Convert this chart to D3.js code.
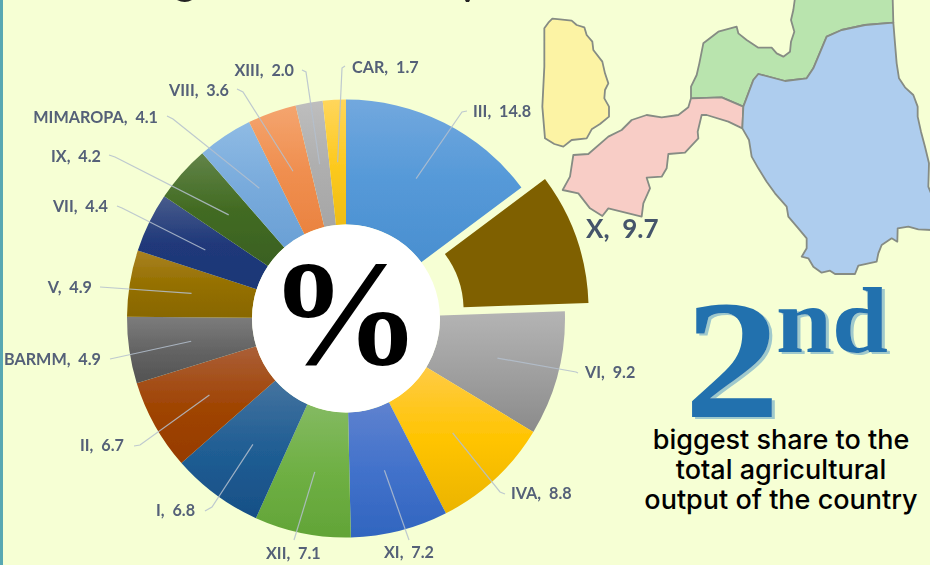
<!DOCTYPE html>
<meta charset="utf-8">
<style>
html, body { margin: 0; padding: 0; background: #f6ffd4; overflow: hidden; }
svg { display: block; }
</style>
<body>
<script src="https://d3js.org/d3.v7.min.js"></script>
<script>

// chart values, clockwise from the top
var regions = ["III", "X", "VI", "IVA", "XI", "XII", "I", "II", "BARMM", "V", "VII", "IX", "MIMAROPA", "VIII", "XIII", "CAR"];
var shares = [14.8, 9.7, 9.2, 8.8, 7.2, 7.1, 6.8, 6.7, 4.9, 4.9, 4.4, 4.2, 4.1, 3.6, 2.0, 1.7];
var highlighted = "X";

// gradient colours per slice, same order
var topColors = ["#72a8de", "#7f6000", "#b4b4b4", "#ffcb45", "#5f82cf", "#84ba62", "#44739f", "#ab5f38", "#7c7c7c", "#a98222", "#485c8c", "#628449", "#8fbbe4", "#f4a56f", "#bebebe", "#ffd65c"];
var midColors = ["#5599d8", "#7f6000", "#a0a0a0", "#ffc400", "#4272cb", "#6fb044", "#205e94", "#a04505", "#646464", "#957000", "#20397a", "#426b22", "#79abdc", "#f08f50", "#afafaf", "#fdca20"];
var bottomColors = ["#4a8fd0", "#7f6000", "#8b8b8b", "#ebb400", "#3165bf", "#62a437", "#174f86", "#963b00", "#525252", "#886700", "#1d3877", "#3a6020", "#6aa0d5", "#ea8340", "#a6a6a6", "#efbd12"];

// where each leader ends and its label sits
var leaderEnds = {
  "III": [[462, 112], [467, 111]], "VI": [[576, 372], [578, 373]], "IVA": [[500, 492], [505, 494]],
  "XI": [[409, 540]], "XII": [[294, 540]], "I": [[212, 507], [205, 511]], "II": [[140, 445], [134, 446]],
  "BARMM": [[110, 359]], "V": [[100, 287]], "VII": [[122, 208], [117, 206]], "IX": [[115, 157], [109, 155]],
  "MIMAROPA": [[173, 119], [167, 116]], "VIII": [[243, 92], [237, 89]], "XIII": [[306, 72], [302, 70]], "CAR": [[342, 68], [345, 66]]
};
var labelSpots = {
  "III": [473, 117, "start"], "X": [586, 238, "start"], "VI": [585, 378, "start"], "IVA": [511, 499, "start"],
  "XI": [384, 558, "start"], "XII": [266, 559, "start"], "I": [156, 516, "start"], "II": [80, 451, "start"],
  "BARMM": [101, 365, "end"], "V": [92, 293, "end"], "VII": [108, 212, "end"], "IX": [101, 162, "end"],
  "MIMAROPA": [158, 123, "end"], "VIII": [229, 96, "end"], "XIII": [294, 76, "end"], "CAR": [352, 73, "start"]
};

var captionLines = ["biggest share to the", "total agricultural", "output of the country"];

// map outlines, traced in 3x crop pixels
var yellowShape = [[238,85],[250,68],[262,56],[285,58],[320,62],[335,75],[358,82],[365,105],[382,125],[385,150],[412,185],[420,220],[430,250],[420,270],[418,295],[432,320],[432,350],[405,372],[380,388],[365,415],[320,420],[295,440],[268,432],[240,415],[232,320],[238,200]];
var greenShape = [[990,-6],[985,30],[978,60],[988,95],[978,125],[975,155],[955,170],[935,160],[920,143],[880,143],[845,120],[820,100],[815,80],[760,95],[715,130],[703,190],[695,225],[678,260],[678,295],[770,292],[835,320],[865,240],[880,222],[960,243],[1025,235],[1045,205],[1085,110],[1130,90],[1200,75],[1285,68],[1283,-6]];
var blueShape = [[1285,68],[1290,130],[1295,190],[1302,235],[1320,262],[1345,285],[1358,320],[1358,350],[1368,395],[1380,440],[1392,490],[1390,560],[1400,585],[1400,690],[1360,688],[1330,680],[1298,685],[1297,725],[1280,715],[1250,735],[1240,760],[1235,785],[1180,797],[1170,822],[1110,822],[1095,812],[1070,818],[1045,800],[1030,775],[1010,770],[1025,745],[1025,715],[1000,685],[970,650],[965,620],[930,580],[905,545],[880,505],[860,470],[852,420],[832,385],[835,320],[865,240],[880,222],[960,243],[1025,235],[1045,205],[1085,110],[1130,90],[1200,75]];
var pinkShape = [[678,295],[770,292],[835,320],[832,385],[790,365],[725,345],[710,345],[698,395],[700,415],[660,458],[610,462],[605,505],[590,530],[545,533],[555,565],[535,610],[530,650],[430,625],[412,648],[375,625],[340,580],[293,570],[315,530],[325,465],[370,462],[430,410],[470,390],[500,360],[545,345],[590,352],[640,345],[670,322]];

var width = 930;
var height = 565;
var cx = 346, cy = 318.5;
var outerR = 219, innerR = 94;
var explode = 25;

var svg = d3.select("body").append("svg")
  .attr("width", width).attr("height", height);

var defs = svg.append("defs");
defs.append("filter").attr("id", "soft")
  .append("feGaussianBlur").attr("stdDeviation", 0.45);

// flat offset shadow for the 2nd callout
var shadow = defs.append("filter").attr("id", "offsetShadow");
shadow.append("feDropShadow").attr("dx", 3).attr("dy", 2).attr("stdDeviation", 0)
  .attr("flood-color", "#9fc9cc");

svg.append("rect").attr("width", width).attr("height", height).attr("fill", "#f6ffd4");
svg.append("rect").attr("width", 3).attr("height", height).attr("fill", "#58a8b2");

// descender tips of the cropped heading
svg.append("path").attr("d", "M177 0 Q185 4 192 0 Z").attr("fill", "#222");
svg.append("path").attr("d", "M465 0 L470 0 L469 2 L466 2 Z").attr("fill", "#222");

// map
var mapX = d3.scaleLinear().domain([0, 3]).range([465, 466]);
var mapY = d3.scaleLinear().domain([0, 3]).range([0, 1]);
var outline = d3.line().x(function(d) { return mapX(d[0]); }).y(function(d) { return mapY(d[1]); })
  .curve(d3.curveLinearClosed);

var mapGroup = svg.append("g").attr("filter", "url(#soft)")
  .attr("stroke", "#868c84").attr("stroke-width", 1.8).attr("stroke-linejoin", "round");
mapGroup.append("path").attr("d", outline(yellowShape)).attr("fill", "#fcf3a4");
mapGroup.append("path").attr("d", outline(greenShape)).attr("fill", "#b9e4ae");
mapGroup.append("path").attr("d", outline(pinkShape)).attr("fill", "#f8cdc6");
mapGroup.append("path").attr("d", outline(blueShape)).attr("fill", "#aecdee");

// donut
var rows = regions.map(function(r, i) { return { region: r, share: shares[i], i: i }; });
var pie = d3.pie().sort(null).value(function(d) { return d.share; });
var arc = d3.arc().innerRadius(innerR).outerRadius(outerR);
var slices = pie(rows);

slices.forEach(function(s) {
  var g = defs.append("linearGradient").attr("id", "grad" + s.data.i)
    .attr("x1", 0).attr("y1", 0).attr("x2", 0).attr("y2", 1);
  g.append("stop").attr("offset", "0%").attr("stop-color", topColors[s.data.i]);
  g.append("stop").attr("offset", "50%").attr("stop-color", midColors[s.data.i]);
  g.append("stop").attr("offset", "100%").attr("stop-color", bottomColors[s.data.i]);
});

function sliceOffset(s) {
  if (s.data.region != highlighted) return [0, 0];
  var mid = (s.startAngle + s.endAngle) / 2;
  return [Math.sin(mid) * explode, -Math.cos(mid) * explode];
}

var donut = svg.append("g").attr("transform", "translate(" + cx + "," + cy + ")");

donut.selectAll("path.slice").data(slices).enter().append("path")
  .attr("class", "slice")
  .attr("d", arc)
  .attr("transform", function(d) { return "translate(" + sliceOffset(d) + ")"; })
  .attr("fill", function(d) { return "url(#grad" + d.data.i + ")"; })
  .attr("filter", "url(#soft)");

svg.append("circle").attr("cx", cx).attr("cy", cy).attr("r", innerR).attr("fill", "#fff");

// leader lines, from each slice centroid out to its label
var leader = d3.line();
svg.selectAll("path.leader").data(slices.filter(function(s) { return leaderEnds[s.data.region]; }))
  .enter().append("path")
  .attr("class", "leader")
  .attr("fill", "none")
  .attr("stroke", "#b4bfce")
  .attr("stroke-width", 1.2)
  .attr("opacity", 0.85)
  .attr("d", function(d) {
    var c = arc.centroid(d);
    return leader([[c[0] + cx, c[1] + cy]].concat(leaderEnds[d.data.region]));
  });

svg.selectAll("text.lab").data(rows).enter().append("text")
  .attr("class", "lab")
  .attr("x", function(d) { return labelSpots[d.region][0]; })
  .attr("y", function(d) { return labelSpots[d.region][1]; })
  .attr("text-anchor", function(d) { return labelSpots[d.region][2]; })
  .attr("filter", "url(#soft)")
  .style("white-space", "pre")
  .style("font-family", "Lato")
  .style("font-weight", 700)
  .style("font-size", function(d) { return d.region == highlighted ? "26px" : "16.2px"; })
  .attr("fill", function(d) { return d.region == highlighted ? "#44546a" : "#546178"; })
  .text(function(d) { return d.region + ",  " + d.share.toFixed(1); });

// percent sign
svg.append("text")
  .attr("x", cx - 1).attr("y", 364)
  .attr("text-anchor", "middle")
  .style("font-family", "Liberation Serif")
  .style("font-weight", 700)
  .style("font-size", "150px")
  .attr("fill", "#000")
  .attr("textLength", 153)
  .attr("lengthAdjust", "spacingAndGlyphs")
  .text("%");

// 2nd callout
svg.append("text")
  .attr("x", 684).attr("y", 417)
  .attr("filter", "url(#offsetShadow)")
  .style("font-family", "Liberation Serif").style("font-weight", 700).style("font-size", "170px")
  .attr("fill", "#2171ae")
  .attr("textLength", 96)
  .attr("lengthAdjust", "spacingAndGlyphs")
  .text("2");
svg.append("text")
  .attr("x", 776).attr("y", 352)
  .attr("filter", "url(#offsetShadow)")
  .style("font-family", "Liberation Serif").style("font-weight", 700).style("font-size", "94px")
  .attr("fill", "#2171ae")
  .attr("textLength", 112)
  .attr("lengthAdjust", "spacingAndGlyphs")
  .text("nd");

svg.selectAll("text.caption").data(captionLines).enter().append("text")
  .attr("class", "caption")
  .attr("x", 781)
  .attr("y", function(d, i) { return 449 + i * 30; })
  .attr("text-anchor", "middle")
  .style("font-family", "Inter")
  .style("font-weight", 500)
  .style("font-size", "27px")
  .attr("fill", "#000")
  .text(function(d) { return d; });

</script>
</body>
